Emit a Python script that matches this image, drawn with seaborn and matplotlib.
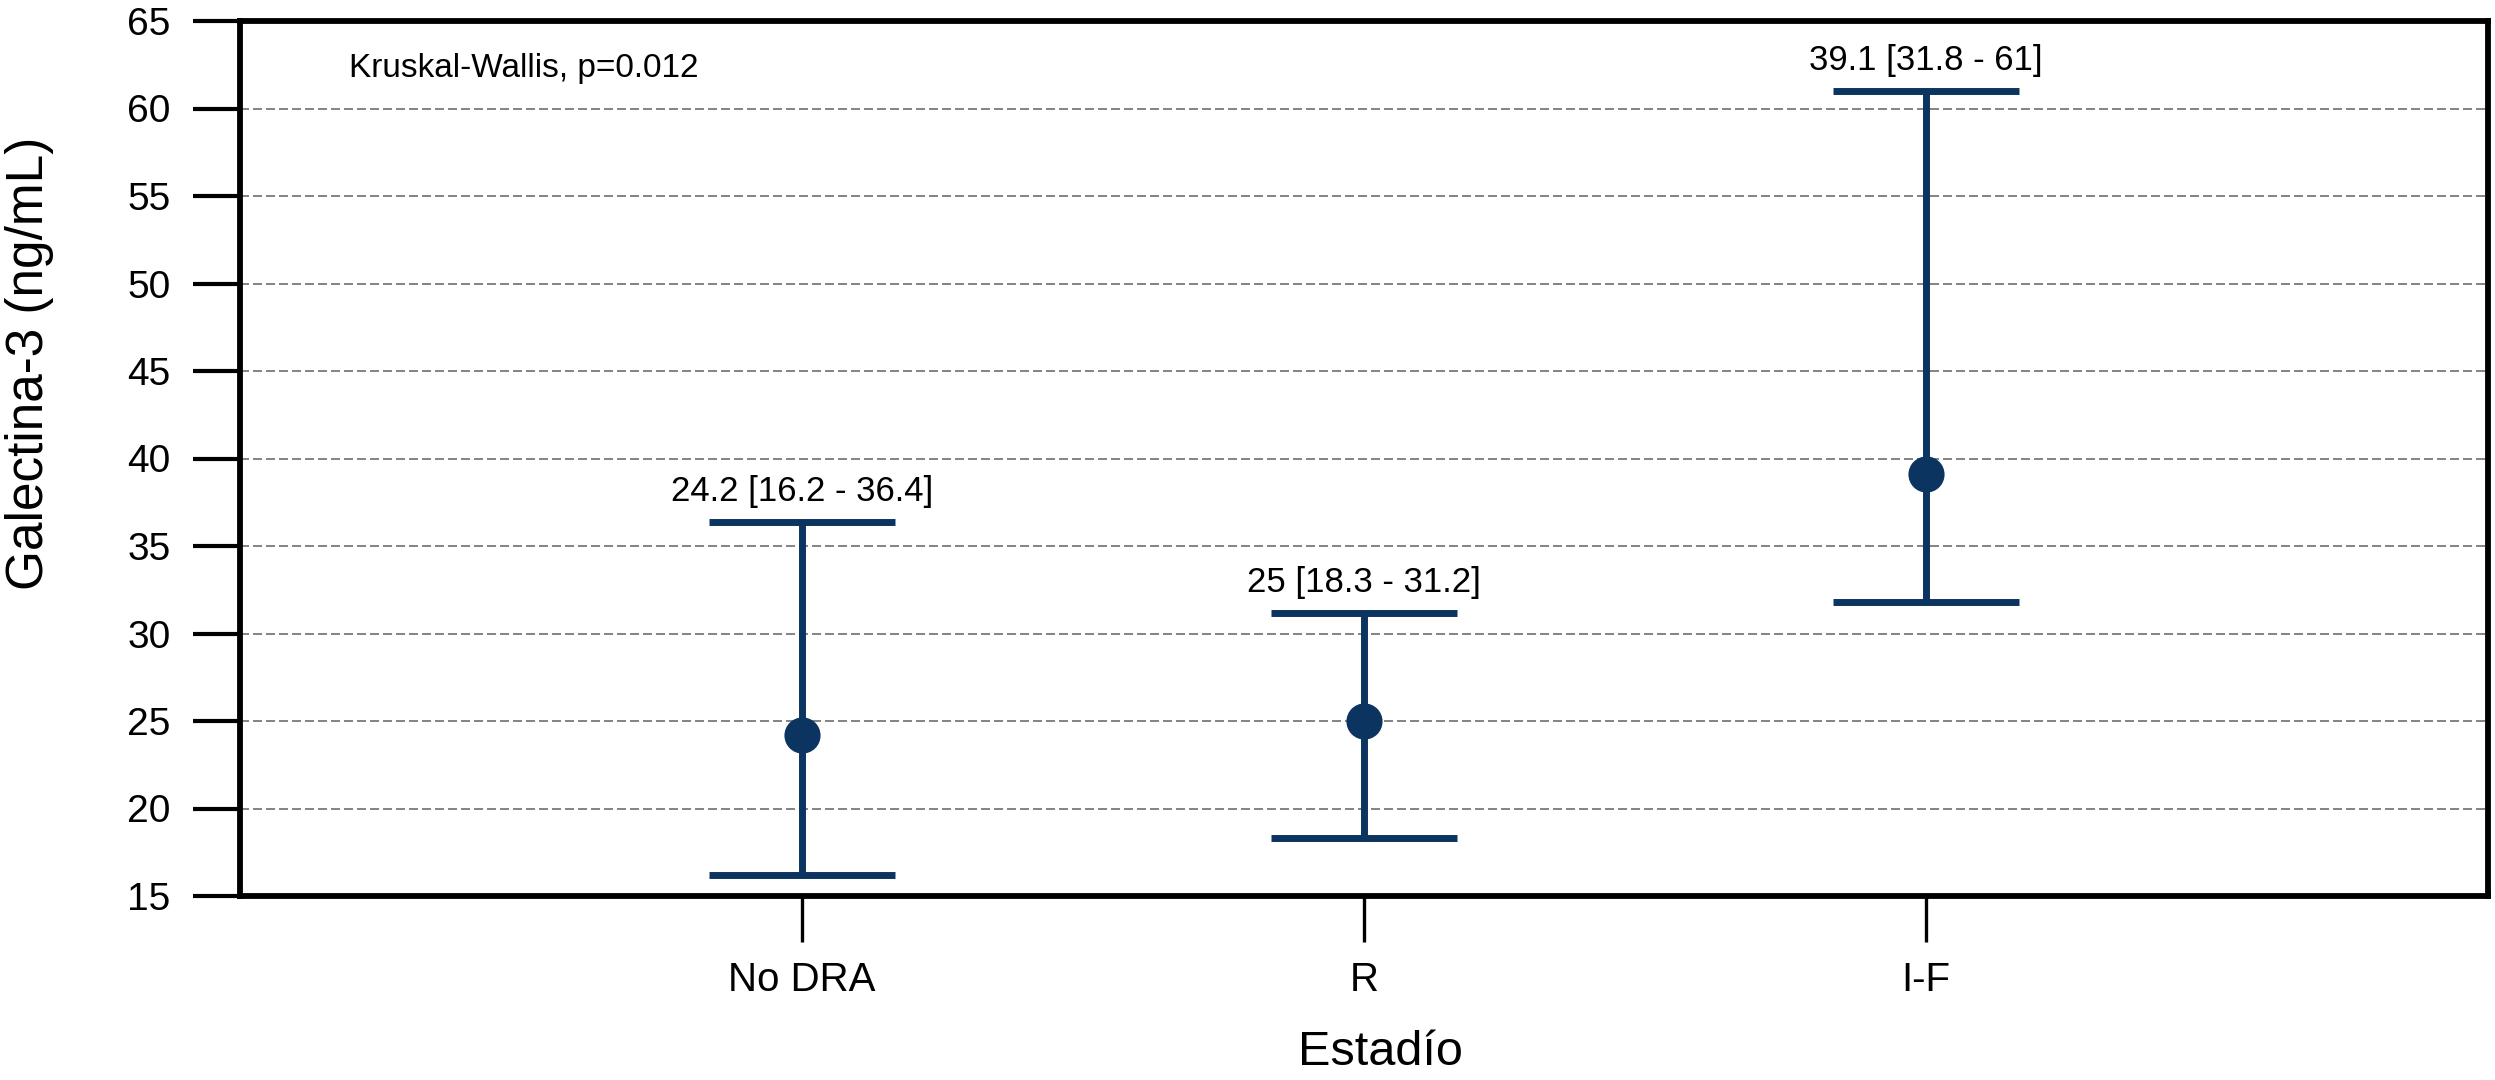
import numpy as np
import pandas as pd
import matplotlib
matplotlib.use("Agg")
import matplotlib.pyplot as plt
import seaborn as sns

# ---- data ----
categories = ["No DRA", "R", "I-F"]
medians = [24.2, 25.0, 39.1]
q1 = [16.2, 18.3, 31.8]
q3 = [36.4, 31.2, 61.0]
labels = ["24.2 [16.2 - 36.4]", "25 [18.3 - 31.2]", "39.1 [31.8 - 61]"]
yticks = [15, 20, 25, 30, 35, 40, 45, 50, 55, 60, 65]
annotation = "Kruskal-Wallis, p=0.012"

sns.set_theme(style="white")
plt.rcParams["font.family"] = ["Liberation Sans", "DejaVu Sans"]

rows = []
for c, lo, m, hi in zip(categories, q1, medians, q3):
    for v in (lo, m, hi):
        rows.append({"Estadío": c, "val": v})
df = pd.DataFrame(rows)

navy = "#0c3461"
fig = plt.figure(figsize=(24.95, 10.8), dpi=100)
ax = fig.add_axes([240 / 2495, 1 - 896 / 1080, 2248 / 2495, 875 / 1080])

sns.pointplot(data=df, x="Estadío", y="val", order=categories,
              estimator=np.median, errorbar=lambda x: (np.min(x), np.max(x)),
              color=navy, linestyle="none", markers="o", markersize=24,
              capsize=0.33, err_kws={"linewidth": 5.0, "solid_capstyle": "butt"},
              ax=ax)

ax.set_xlim(-1, 3)
ax.set_ylim(15, 65)
ax.set_yticks(yticks)
ax.set_yticklabels([str(t) for t in yticks])

ax.grid(axis="y", color="#7a7a7a", linestyle=(0, (5, 2.2)), linewidth=1.3)
ax.set_axisbelow(True)

for s in ax.spines.values():
    s.set_visible(True)
    s.set_color("black")
    s.set_linewidth(4.2)

ax.tick_params(axis="y", which="both", direction="out", length=34, width=3,
               color="black", labelsize=28, pad=16, left=True)
ax.tick_params(axis="x", which="both", direction="out", length=33, width=2.4,
               color="black", labelsize=29, pad=14, bottom=True)
for t in ax.get_xticklabels() + ax.get_yticklabels():
    t.set_color("black")

ax.set_ylabel("Galectina-3 (ng/mL)", fontsize=37, color="black")
ax.yaxis.set_label_coords((54 - 240) / 2248, 0.609)
ax.set_xlabel("Estadío", fontsize=35, color="black")
ax.xaxis.set_label_coords(0.5075, (896 - 1030) / 875)

for i, (hi, lab) in enumerate(zip(q3, labels)):
    ax.annotate(lab, xy=(i, hi), xytext=(0, 15), textcoords="offset points",
                ha="center", va="baseline", fontsize=25, color="black")

ax.text((349 - 240) / 2248, (896 - 77) / 875, annotation, transform=ax.transAxes,
        fontsize=24, ha="left", va="baseline", color="black")

fig.savefig("out.png", dpi=100, facecolor="white")
